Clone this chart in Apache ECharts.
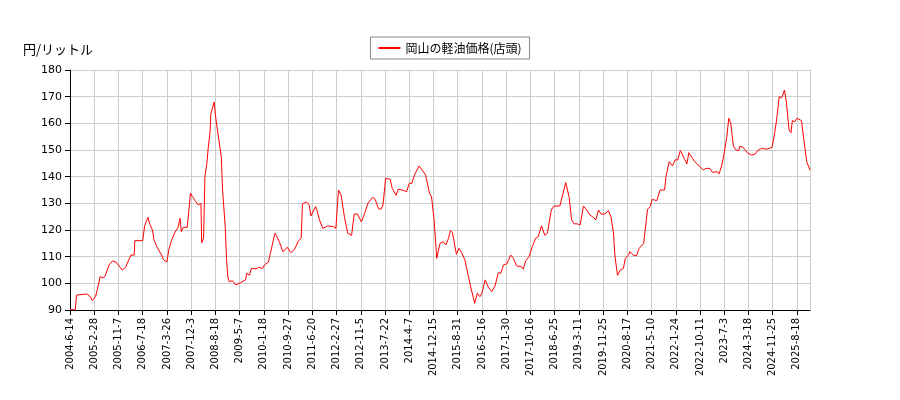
<!DOCTYPE html>
<html>
<head>
<meta charset="utf-8">
<script src="https://cdn.jsdelivr.net/npm/echarts@6/dist/echarts.min.js"></script>
<style>html,body{margin:0;background:#fff}#c{width:900px;height:400px}</style>
</head>
<body>
<div id="c"></div>
<script>
// tick labels, one every 37 weeks from 2004-6-14
const tickLabels = ['2004-6-14','2005-2-28','2005-11-7','2006-7-18','2007-3-26','2007-12-3','2008-8-18','2009-5-7','2010-1-18','2010-9-27','2011-6-20','2012-2-27','2012-11-5','2013-7-22','2014-4-7','2014-12-15','2015-8-31','2016-5-16','2017-1-30','2017-10-16','2018-6-25','2019-3-11','2019-11-25','2020-8-17','2021-5-10','2022-1-24','2022-10-11','2023-7-3','2024-3-18','2024-11-25','2025-8-18']

// weeks since 2004-6-14
const weeks = [0,8,10,26,31,34,39,43,46,51,54,60,65,70,75,80,85,90,93,98,99,111,114,119,122,126,128,133,139,143,148,151,155,160,165,168,170,173,179,181,184,187,192,196,200,201,204,206,209,211,214,215,218,220,221,223,226,231,233,237,239,241,243,248,253,256,261,268,270,274,277,284,288,294,297,299,303,306,310,313,315,320,325,328,332,337,343,346,349,353,355,361,365,368,371,375,377,381,386,
  388,393,402,406,410,414,419,424,430,434,439,445,450,455,462,466,471,475,478,482,489,492,498,501,507,514,518,522,526,533,538,543,549,552,556,560,562,565,570,574,578,581,584,590,594,598,603,608,613,618,622,626,629,634,639,644,649,654,658,662,667,670,673,677,682,689,692,696,701,706,711,715,720,725,729,735,739,748,753,757,762,766,770,
  775,779,784,789,794,799,803,807,811,817,822,826,830,832,836,840,845,848,853,855,860,865,869,876,878,882,886,889,896,901,908,910,915,920,924,928,932,935,939,942,945,948,954,957,962,967,971,977,981,988,991,995,998,1003,1006,1009,1013,1017,1021,1023,1028,1035,1041,1046,1051,1056,1064,1072,1076,1079,1083,1087,1091,1094,1098,1101,1103,1107,1110,1113,1117,1120,1125,1130]

// 岡山の軽油価格(店頭), 円/リットル
const prices = [90.2,90,95.6,96,95,93.5,95,99,102.5,102,103,107,108.4,108,106.5,105,106,109,110.6,110.6,116,116,121.6,124.8,122,120,116.5,113.5,111,108.8,108,112.8,116,119,121,124.4,119.4,121,121,126,133.8,132.5,130.6,129.4,130,115.2,117,140,145,150.6,157,163.4,163.8,168,165.6,161.3,156,147.5,135,121.3,109.4,102.5,100.6,101,99.4,99.3,100.3,101.3,103.8,103,105.6,105.4,106,105.6,106.9,107.5,108,111.3,115.6,118.8,118,115.4,111.9,111.5,113.5,111.5,112.8,112.5,116,116.9,129.8,130.5,129.6,125.3,125.6,128.8,127.5,123.8,120.6,
  120.6,121.5,121.3,120.6,135,133,125,118.8,118,126,126,123,126.3,130,132.3,131.5,128,127.8,129.4,139.4,139,135.6,133,135.3,135,134.4,137.5,137.5,140.6,144,142.5,140.6,133.8,132.5,123.8,109.4,108.8,115,115.6,114.4,116.9,119.8,119,110.9,113.1,111.5,108.8,103,97.5,92.5,96.3,95,96.3,101.3,98.5,96.9,99,104,103.8,106.9,107.3,107.3,110.6,109.4,106.5,106.3,105.3,108.5,110,113.8,116.9,117.5,121.6,118,118.8,127.5,129,129,133.8,137.8,132.5,123.8,122.3,
  122.3,121.9,129,127.5,125.6,124.8,123.8,127.5,126,126,127.3,125,118.8,110.6,103,104.9,105.6,109.4,110.6,111.9,110.6,110.3,113.1,115,119.4,127.8,128.8,131.5,131,135,135,140,145.6,144,146.3,146.3,149.8,150,146.3,144.8,149,148.8,145.6,146.3,143.8,142.5,143.1,143.1,141.6,141.9,141,144,147.5,155,161.9,160,151.5,150,149.8,151.5,151,148.8,148.1,148.5,150,150.6,150.3,151,156.3,161.3,170,169.6,172.5,167.8,157.5,156.5,161,160.6,161.9,162.3,161,155,145.6,142.5]

const yTicks = { min: 90, max: 180, interval: 10 }

const chart = echarts.init(document.getElementById('c'))
chart.setOption({
  animation: false,
  textStyle: { fontFamily: 'DejaVu Sans' },
  title: {
    text: '円/リットル', left: 18, top: 38,
    textStyle: { fontSize: 13, fontWeight: 'normal', color: '#000', fontFamily: 'Noto Sans CJK JP' }
  },
  legend: {
    top: 37, left: 'center',
    borderColor: '#888', borderWidth: 1, borderRadius: 0, padding: [5, 8],
    itemWidth: 22, itemHeight: 2,
    textStyle: { fontSize: 12, color: '#000', fontFamily: 'Noto Sans CJK JP' },
    data: [{ name: '岡山の軽油価格(店頭)', icon: 'rect' }]
  },
  grid: { left: 70, right: 90, top: 70, bottom: 90 },
  xAxis: {
    type: 'value', min: 0, max: 1130, interval: 37,
    axisLine: { onZero: false, lineStyle: { color: '#000' } },
    axisTick: { lineStyle: { color: '#000' } },
    splitLine: { show: true, lineStyle: { color: '#ccc' } },
    axisLabel: {
      rotate: 90, fontSize: 10, color: '#000', showMaxLabel: false,
      formatter: v => tickLabels[Math.round(v / 37)] || ''
    }
  },
  yAxis: {
    type: 'value', ...yTicks,
    axisLine: { show: true, lineStyle: { color: '#000' } },
    axisTick: { show: true, lineStyle: { color: '#000' } },
    splitLine: { lineStyle: { color: '#ccc' } },
    axisLabel: { fontSize: 11, color: '#000' }
  },
  series: [{
    name: '岡山の軽油価格(店頭)', type: 'line', showSymbol: false,
    lineStyle: { color: '#ff0000', width: 1 }, itemStyle: { color: '#ff0000' },
    data: weeks.map((w, i) => [w, prices[i]])
  }]
})
</script>
</body>
</html>
